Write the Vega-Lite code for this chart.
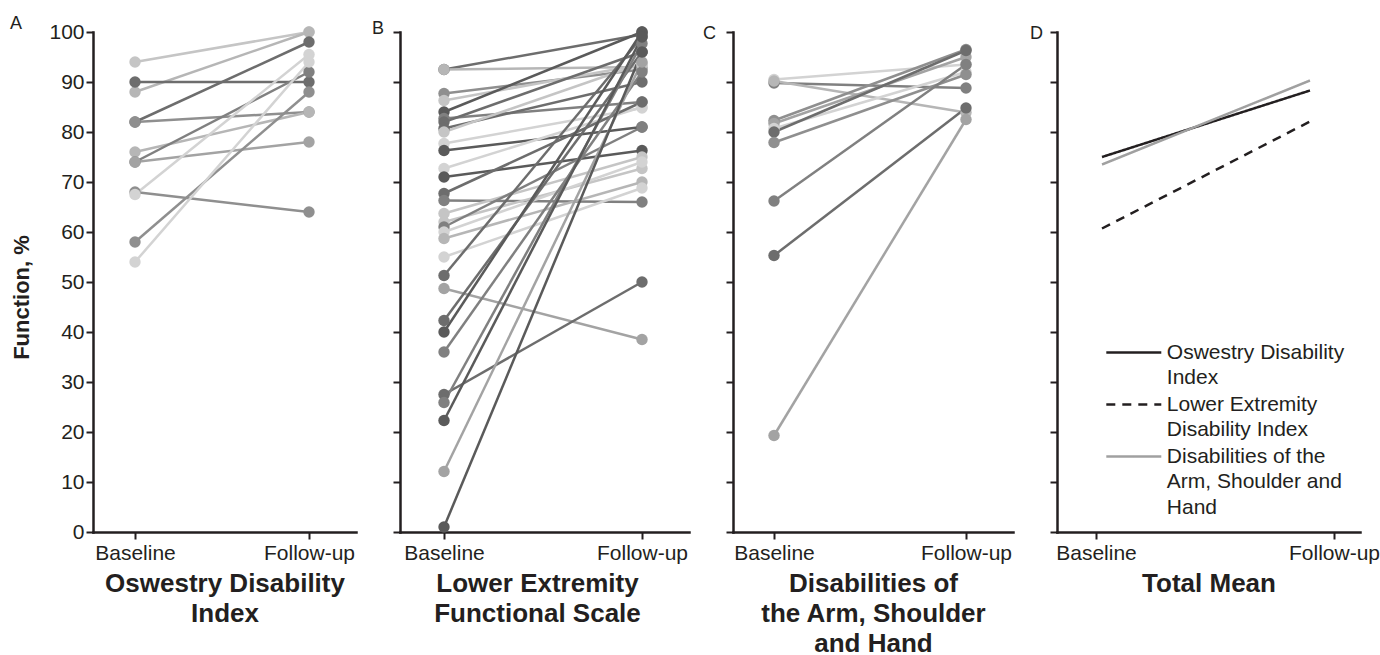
{
  "$schema": "https://vega.github.io/schema/vega-lite/v6.json",
  "background": "white",
  "padding": {"left": 10, "top": 15, "right": 0, "bottom": 0},
  "bounds": "flush",
  "spacing": 44,
  "resolve": {
    "scale": {"color": "independent", "strokeDash": "independent"},
    "legend": {"color": "independent", "strokeDash": "independent"}
  },
  "config": {
    "view": {"stroke": null},
    "font": "Liberation Sans",
    "axis": {
      "domainColor": "#231f20", "domainWidth": 2.5, "domainCap": "square",
      "tickColor": "#231f20", "tickWidth": 2, "tickSize": 7,
      "labelFont": "Liberation Sans", "labelFontSize": 21, "labelColor": "#231f20",
      "titleFont": "Liberation Sans", "titleFontSize": 26, "titleFontWeight": "bold", "titleColor": "#231f20",
      "grid": false
    },
    "title": {"fontSize": 18, "fontWeight": "normal", "font": "Liberation Sans", "color": "#231f20", "anchor": "start", "frame": "group", "baseline": "alphabetic", "offset": -12},
    "style": {"guide-label": {"lineHeight": 25.7}}
  },
  "datasets": {
    "odi": [
      {"id": "A1", "time": "Baseline", "value": 94, "tone": "l3"}, {"id": "A1", "time": "Follow-up", "value": 100, "tone": "l3"},
      {"id": "A2", "time": "Baseline", "value": 88, "tone": "l2"}, {"id": "A2", "time": "Follow-up", "value": 100, "tone": "l2"},
      {"id": "A3", "time": "Baseline", "value": 90, "tone": "d2"}, {"id": "A3", "time": "Follow-up", "value": 90, "tone": "d2"},
      {"id": "A4", "time": "Baseline", "value": 82, "tone": "d2"}, {"id": "A4", "time": "Follow-up", "value": 98, "tone": "d2"},
      {"id": "A5", "time": "Baseline", "value": 82, "tone": "m2"}, {"id": "A5", "time": "Follow-up", "value": 84, "tone": "m2"},
      {"id": "A6", "time": "Baseline", "value": 76, "tone": "l2"}, {"id": "A6", "time": "Follow-up", "value": 84, "tone": "l2"},
      {"id": "A7", "time": "Baseline", "value": 74, "tone": "m1"}, {"id": "A7", "time": "Follow-up", "value": 92, "tone": "m1"},
      {"id": "A8", "time": "Baseline", "value": 74, "tone": "l1"}, {"id": "A8", "time": "Follow-up", "value": 78, "tone": "l1"},
      {"id": "A9", "time": "Baseline", "value": 68, "tone": "m2"}, {"id": "A9", "time": "Follow-up", "value": 64, "tone": "m2"},
      {"id": "A10", "time": "Baseline", "value": 67.5, "tone": "l4"}, {"id": "A10", "time": "Follow-up", "value": 95.5, "tone": "l4"},
      {"id": "A11", "time": "Baseline", "value": 58, "tone": "m2"}, {"id": "A11", "time": "Follow-up", "value": 88, "tone": "m2"},
      {"id": "A12", "time": "Baseline", "value": 54, "tone": "l4"}, {"id": "A12", "time": "Follow-up", "value": 94, "tone": "l4"}
    ],
    "lefs": [
      {"id": "B1", "time": "Baseline", "value": 92.5, "tone": "d2"}, {"id": "B1", "time": "Follow-up", "value": 99.5, "tone": "d2"},
      {"id": "B2", "time": "Baseline", "value": 92.5, "tone": "l2"}, {"id": "B2", "time": "Follow-up", "value": 93, "tone": "l2"},
      {"id": "B3", "time": "Baseline", "value": 87.7, "tone": "m2"}, {"id": "B3", "time": "Follow-up", "value": 92.5, "tone": "m2"},
      {"id": "B4", "time": "Baseline", "value": 86.3, "tone": "l3"}, {"id": "B4", "time": "Follow-up", "value": 93.5, "tone": "l3"},
      {"id": "B5", "time": "Baseline", "value": 84, "tone": "d1"}, {"id": "B5", "time": "Follow-up", "value": 100, "tone": "d1"},
      {"id": "B6", "time": "Baseline", "value": 82.7, "tone": "m1"}, {"id": "B6", "time": "Follow-up", "value": 86, "tone": "m1"},
      {"id": "B7", "time": "Baseline", "value": 82, "tone": "d2"}, {"id": "B7", "time": "Follow-up", "value": 96, "tone": "d2"},
      {"id": "B8", "time": "Baseline", "value": 80.7, "tone": "d2"}, {"id": "B8", "time": "Follow-up", "value": 90, "tone": "d2"},
      {"id": "B9", "time": "Baseline", "value": 80, "tone": "l3"}, {"id": "B9", "time": "Follow-up", "value": 93.7, "tone": "l3"},
      {"id": "B10", "time": "Baseline", "value": 77.7, "tone": "l4"}, {"id": "B10", "time": "Follow-up", "value": 84.8, "tone": "l4"},
      {"id": "B11", "time": "Baseline", "value": 76.3, "tone": "d1"}, {"id": "B11", "time": "Follow-up", "value": 81, "tone": "d1"},
      {"id": "B12", "time": "Baseline", "value": 72.7, "tone": "l4"}, {"id": "B12", "time": "Follow-up", "value": 85, "tone": "l4"},
      {"id": "B13", "time": "Baseline", "value": 71, "tone": "d1"}, {"id": "B13", "time": "Follow-up", "value": 76.3, "tone": "d1"},
      {"id": "B14", "time": "Baseline", "value": 67.7, "tone": "d2"}, {"id": "B14", "time": "Follow-up", "value": 86, "tone": "d2"},
      {"id": "B15", "time": "Baseline", "value": 66.3, "tone": "m1"}, {"id": "B15", "time": "Follow-up", "value": 66, "tone": "m1"},
      {"id": "B16", "time": "Baseline", "value": 63.7, "tone": "l3"}, {"id": "B16", "time": "Follow-up", "value": 75, "tone": "l3"},
      {"id": "B17", "time": "Baseline", "value": 62, "tone": "l3"}, {"id": "B17", "time": "Follow-up", "value": 72.7, "tone": "l3"},
      {"id": "B18", "time": "Baseline", "value": 61, "tone": "m1"}, {"id": "B18", "time": "Follow-up", "value": 81, "tone": "m1"},
      {"id": "B19", "time": "Baseline", "value": 60, "tone": "l4"}, {"id": "B19", "time": "Follow-up", "value": 74, "tone": "l4"},
      {"id": "B20", "time": "Baseline", "value": 58.7, "tone": "l2"}, {"id": "B20", "time": "Follow-up", "value": 70, "tone": "l2"},
      {"id": "B21", "time": "Baseline", "value": 55, "tone": "l4"}, {"id": "B21", "time": "Follow-up", "value": 68.8, "tone": "l4"},
      {"id": "B22", "time": "Baseline", "value": 51.3, "tone": "d2"}, {"id": "B22", "time": "Follow-up", "value": 99, "tone": "d2"},
      {"id": "B23", "time": "Baseline", "value": 48.7, "tone": "l1"}, {"id": "B23", "time": "Follow-up", "value": 38.5, "tone": "l1"},
      {"id": "B24", "time": "Baseline", "value": 42.3, "tone": "d2"}, {"id": "B24", "time": "Follow-up", "value": 96, "tone": "d2"},
      {"id": "B25", "time": "Baseline", "value": 40, "tone": "d1"}, {"id": "B25", "time": "Follow-up", "value": 100, "tone": "d1"},
      {"id": "B26", "time": "Baseline", "value": 36, "tone": "m1"}, {"id": "B26", "time": "Follow-up", "value": 92, "tone": "m1"},
      {"id": "B27", "time": "Baseline", "value": 27.5, "tone": "d2"}, {"id": "B27", "time": "Follow-up", "value": 50, "tone": "d2"},
      {"id": "B28", "time": "Baseline", "value": 25.9, "tone": "m1"}, {"id": "B28", "time": "Follow-up", "value": 97.7, "tone": "m1"},
      {"id": "B29", "time": "Baseline", "value": 22.3, "tone": "d1"}, {"id": "B29", "time": "Follow-up", "value": 99, "tone": "d1"},
      {"id": "B30", "time": "Baseline", "value": 12.1, "tone": "l1"}, {"id": "B30", "time": "Follow-up", "value": 94, "tone": "l1"},
      {"id": "B31", "time": "Baseline", "value": 1, "tone": "d1"}, {"id": "B31", "time": "Follow-up", "value": 96, "tone": "d1"}
    ],
    "dash": [
      {"id": "C1", "time": "Baseline", "value": 90.5, "tone": "l4"}, {"id": "C1", "time": "Follow-up", "value": 93.5, "tone": "l4"},
      {"id": "C2", "time": "Baseline", "value": 89.8, "tone": "m1"}, {"id": "C2", "time": "Follow-up", "value": 88.8, "tone": "m1"},
      {"id": "C3", "time": "Baseline", "value": 90.2, "tone": "l2"}, {"id": "C3", "time": "Follow-up", "value": 83.9, "tone": "l2"},
      {"id": "C4", "time": "Baseline", "value": 82.3, "tone": "m2"}, {"id": "C4", "time": "Follow-up", "value": 96.5, "tone": "m2"},
      {"id": "C5", "time": "Baseline", "value": 81.7, "tone": "l1"}, {"id": "C5", "time": "Follow-up", "value": 95, "tone": "l1"},
      {"id": "C6", "time": "Baseline", "value": 80.7, "tone": "l4"}, {"id": "C6", "time": "Follow-up", "value": 92, "tone": "l4"},
      {"id": "C7", "time": "Baseline", "value": 80, "tone": "d2"}, {"id": "C7", "time": "Follow-up", "value": 96.3, "tone": "d2"},
      {"id": "C8", "time": "Baseline", "value": 77.9, "tone": "m2"}, {"id": "C8", "time": "Follow-up", "value": 91.5, "tone": "m2"},
      {"id": "C9", "time": "Baseline", "value": 66.2, "tone": "m1"}, {"id": "C9", "time": "Follow-up", "value": 93.5, "tone": "m1"},
      {"id": "C10", "time": "Baseline", "value": 55.3, "tone": "d2"}, {"id": "C10", "time": "Follow-up", "value": 84.8, "tone": "d2"},
      {"id": "C11", "time": "Baseline", "value": 19.3, "tone": "l1"}, {"id": "C11", "time": "Follow-up", "value": 82.5, "tone": "l1"}
    ],
    "mean": [
      {"measure": "Oswestry Disability Index", "time": "Baseline", "value": 75},
      {"measure": "Oswestry Disability Index", "time": "Follow-up", "value": 88.3},
      {"measure": "Lower Extremity Disability Index", "time": "Baseline", "value": 60.7},
      {"measure": "Lower Extremity Disability Index", "time": "Follow-up", "value": 82.1},
      {"measure": "Disabilities of the Arm, Shoulder and Hand", "time": "Baseline", "value": 73.5},
      {"measure": "Disabilities of the Arm, Shoulder and Hand", "time": "Follow-up", "value": 90.3}
    ]
  },
  "hconcat": [
    {
      "width": 263, "height": 500,
      "title": {"text": "A", "dx": -83},
      "data": {"name": "odi"},
      "encoding": {
        "x": {"field": "time", "type": "nominal", "sort": ["Baseline", "Follow-up"],
          "scale": {"type": "point", "padding": 0.2557, "align": 0.472},
          "axis": {"title": ["Oswestry Disability", "Index"], "labelAngle": 0, "labelPadding": 3, "titlePadding": 7, "titleLineHeight": 30}},
        "y": {"field": "value", "type": "quantitative", "scale": {"domain": [0, 100], "nice": false},
          "axis": {"title": "Function, %", "titleFontSize": 22, "titleY": 265, "values": [0, 10, 20, 30, 40, 50, 60, 70, 80, 90, 100], "labelPadding": 2, "titlePadding": 15}},
        "color": {"field": "tone", "type": "nominal", "legend": null,
          "scale": {"domain": ["d1", "d2", "m1", "m2", "l1", "l2", "l3", "l4"], "range": ["#5a5a5a", "#6d6d6d", "#808080", "#8f8f8f", "#a3a3a3", "#b6b6b6", "#c5c5c5", "#d3d3d3"]}}
      },
      "layer": [
        {"mark": {"type": "line", "strokeWidth": 2.5}, "encoding": {"detail": {"field": "id"}}},
        {"mark": {"type": "circle", "size": 130, "opacity": 1}, "encoding": {}}
      ]
    },
    {
      "width": 289, "height": 500,
      "title": {"text": "B", "dx": -28},
      "data": {"name": "lefs"},
      "encoding": {
        "x": {"field": "time", "type": "nominal", "sort": ["Baseline", "Follow-up"],
          "scale": {"type": "point", "padding": 0.2298, "align": 0.4835},
          "axis": {"title": ["Lower Extremity", "Functional Scale"], "labelAngle": 0, "labelPadding": 3, "titlePadding": 7, "titleLineHeight": 30, "titleX": 137}},
        "y": {"field": "value", "type": "quantitative", "scale": {"domain": [0, 100], "nice": false},
          "axis": {"title": null, "labels": false, "values": [0, 10, 20, 30, 40, 50, 60, 70, 80, 90, 100]}},
        "color": {"field": "tone", "type": "nominal", "legend": null,
          "scale": {"domain": ["d1", "d2", "m1", "m2", "l1", "l2", "l3", "l4"], "range": ["#5a5a5a", "#6d6d6d", "#808080", "#8f8f8f", "#a3a3a3", "#b6b6b6", "#c5c5c5", "#d3d3d3"]}}
      },
      "layer": [
        {"mark": {"type": "line", "strokeWidth": 2.5}, "encoding": {"detail": {"field": "id"}}},
        {"mark": {"type": "circle", "size": 130, "opacity": 1}, "encoding": {}}
      ]
    },
    {
      "width": 280, "height": 500,
      "title": {"text": "C", "dx": -30},
      "data": {"name": "dash"},
      "encoding": {
        "x": {"field": "time", "type": "nominal", "sort": ["Baseline", "Follow-up"],
          "scale": {"type": "point", "padding": 0.2292, "align": 0.466},
          "axis": {"title": ["Disabilities of", "the Arm, Shoulder", "and Hand"], "labelAngle": 0, "labelPadding": 3, "titlePadding": 7, "titleLineHeight": 30}},
        "y": {"field": "value", "type": "quantitative", "scale": {"domain": [0, 100], "nice": false},
          "axis": {"title": null, "labels": false, "values": [0, 10, 20, 30, 40, 50, 60, 70, 80, 90, 100]}},
        "color": {"field": "tone", "type": "nominal", "legend": null,
          "scale": {"domain": ["d1", "d2", "m1", "m2", "l1", "l2", "l3", "l4"], "range": ["#5a5a5a", "#6d6d6d", "#808080", "#8f8f8f", "#a3a3a3", "#b6b6b6", "#c5c5c5", "#d3d3d3"]}}
      },
      "layer": [
        {"mark": {"type": "line", "strokeWidth": 2.5}, "encoding": {"detail": {"field": "id"}}},
        {"mark": {"type": "circle", "size": 130, "opacity": 1}, "encoding": {}}
      ]
    },
    {
      "width": 303, "height": 500,
      "title": {"text": "D", "dx": -27},
      "data": {"name": "mean"},
      "resolve": {"scale": {"x": "independent"}, "axis": {"x": "independent"}},
      "layer": [
        {
          "mark": {"type": "point", "opacity": 0},
          "encoding": {
            "x": {"field": "time", "type": "nominal", "sort": ["Baseline", "Follow-up"],
              "scale": {"type": "point", "padding": 0.1366, "align": 0.6},
              "axis": {"title": "Total Mean", "orient": "bottom", "labelAngle": 0, "labelPadding": 3, "titlePadding": 7}},
            "y": {"field": "value", "type": "quantitative", "scale": {"domain": [0, 100], "nice": false},
              "axis": {"title": null, "labels": false, "values": [0, 10, 20, 30, 40, 50, 60, 70, 80, 90, 100]}}
          }
        },
        {
          "mark": {"type": "line", "strokeWidth": 2.5},
          "encoding": {
            "x": {"field": "time", "type": "nominal", "sort": ["Baseline", "Follow-up"],
              "scale": {"type": "point", "padding": 0.2284, "align": 0.4737}, "axis": null},
            "y": {"field": "value", "type": "quantitative", "scale": {"domain": [0, 100], "nice": false}},
            "color": {"field": "measure", "type": "nominal",
              "scale": {"domain": ["Oswestry Disability Index", "Lower Extremity Disability Index", "Disabilities of the Arm, Shoulder and Hand"], "range": ["#231f20", "#231f20", "#a0a0a0"]},
              "legend": {"title": null, "orient": "none", "legendX": 66.3, "legendY": 310, "symbolType": "M-3,0H3", "symbolSize": 336, "symbolStrokeWidth": 2.5, "labelFontSize": 21, "labelFont": "Liberation Sans", "labelColor": "#231f20", "labelLimit": 400, "labelOffset": 22.5, "rowPadding": 4, "padding": 0,
                "labelExpr": "datum.label == 'Oswestry Disability Index' ? ['Oswestry Disability', 'Index'] : datum.label == 'Lower Extremity Disability Index' ? ['Lower Extremity', 'Disability Index'] : ['Disabilities of the', 'Arm, Shoulder and', 'Hand']"}},
            "strokeDash": {"field": "measure", "type": "nominal",
              "scale": {"domain": ["Oswestry Disability Index", "Lower Extremity Disability Index", "Disabilities of the Arm, Shoulder and Hand"], "range": [[1, 0], [9, 7], [1, 0]]},
              "legend": {"title": null, "orient": "none", "legendX": 66.3, "legendY": 310, "symbolType": "M-3,0H3", "symbolSize": 336, "symbolStrokeWidth": 2.5, "labelFontSize": 21, "labelFont": "Liberation Sans", "labelColor": "#231f20", "labelLimit": 400, "labelOffset": 22.5, "rowPadding": 4, "padding": 0,
                "labelExpr": "datum.label == 'Oswestry Disability Index' ? ['Oswestry Disability', 'Index'] : datum.label == 'Lower Extremity Disability Index' ? ['Lower Extremity', 'Disability Index'] : ['Disabilities of the', 'Arm, Shoulder and', 'Hand']"}}
          }
        }
      ]
    }
  ]
}
